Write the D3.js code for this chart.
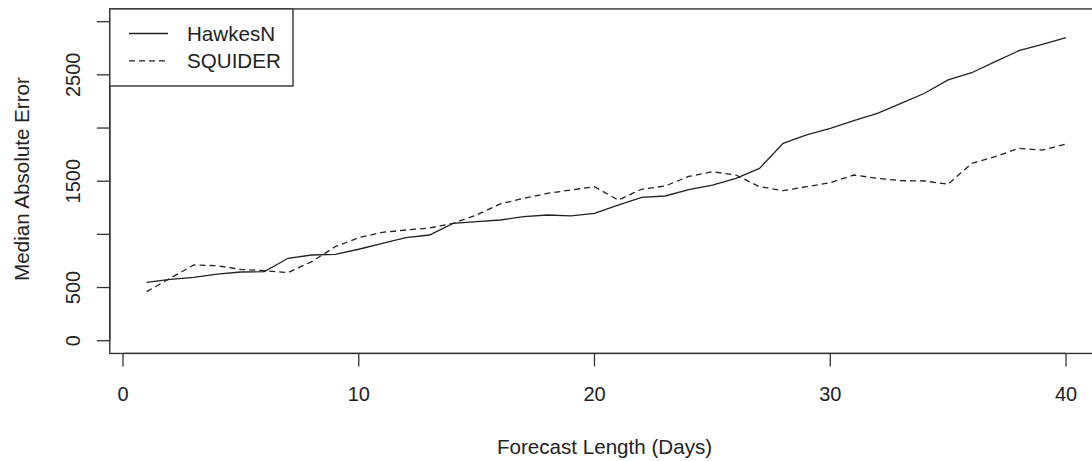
<!DOCTYPE html>
<html>
<head>
<meta charset="utf-8">
<script src="https://cdn.jsdelivr.net/npm/d3@7"></script>
<style>
  body { margin: 0; background: #fff; }
  svg { display: block; font-family: "Liberation Sans", Arial, sans-serif; }
</style>
</head>
<body>
<div id="chart"></div>
<script>
// Forecast horizon (days)
const days = d3.range(1, 41);

// Median absolute error per day
const hawkesN = [549, 577, 596, 627, 646, 649, 775, 806, 812, 860,
                 916, 969, 994, 1104, 1119, 1135, 1166, 1182, 1173, 1198,
                 1276, 1348, 1361, 1420, 1464, 1527, 1621, 1856, 1935, 1997,
                 2069, 2138, 2232, 2327, 2452, 2520, 2624, 2727, 2787, 2850];
const squider = [461, 587, 712, 705, 671, 658, 640, 743, 884, 969,
                 1019, 1041, 1060, 1104, 1182, 1286, 1339, 1386, 1417, 1448,
                 1323, 1424, 1455, 1545, 1589, 1558, 1448, 1411, 1448, 1486,
                 1558, 1527, 1505, 1502, 1471, 1668, 1731, 1809, 1793, 1850];

const xTicks = [0, 10, 20, 30, 40];
const yTicks = [0, 500, 1000, 1500, 2000, 2500, 3000];
const yTickLabels = [0, 500, 1500, 2500]; // R drops the overlapping ones

const seriesNames = ["HawkesN", "SQUIDER"];
const seriesDash = [null, "6,4"];

function draw() {
  const width = 1092, height = 461;
  const ink = "#222";

  const svg = d3.select("#chart").append("svg")
    .attr("width", width)
    .attr("height", height);

  const x = d3.scaleLinear().domain([0, 40]).range([123, 1066]);
  const y = d3.scaleLinear().domain([0, 3000]).range([340.7, 21.7]);

  // R-style 4% padding around the data range gives the box
  const xPad = 0.04 * (40 - 1);
  const yPad = 0.04 * 3000;
  const boxL = x(1 - xPad), boxR = x(40 + xPad);
  const boxT = y(3000 + yPad), boxB = y(-yPad);

  // series
  const line = d3.line()
    .x((d, i) => x(days[i]))
    .y(d => y(d));

  [hawkesN, squider].forEach((s, k) => {
    svg.append("path")
      .datum(s)
      .attr("d", line)
      .attr("fill", "none")
      .attr("stroke", ink)
      .attr("stroke-width", 1.3)
      .attr("stroke-dasharray", seriesDash[k]);
  });

  // box
  svg.append("rect")
    .attr("x", boxL).attr("y", boxT)
    .attr("width", boxR - boxL).attr("height", boxB - boxT)
    .attr("fill", "none")
    .attr("stroke", "#333")
    .attr("stroke-width", 1.4);

  // x axis
  const xa = svg.append("g");
  xTicks.forEach(t => {
    xa.append("line")
      .attr("x1", x(t)).attr("x2", x(t))
      .attr("y1", boxB).attr("y2", boxB + 13)
      .attr("stroke", "#333").attr("stroke-width", 1.3);
    xa.append("text")
      .attr("x", x(t)).attr("y", 401)
      .attr("text-anchor", "middle")
      .attr("font-size", 20)
      .attr("fill", ink)
      .text(t);
  });
  xa.append("line")
    .attr("x1", x(0)).attr("x2", x(40))
    .attr("y1", boxB).attr("y2", boxB)
    .attr("stroke", "#333").attr("stroke-width", 1.3);

  // y axis
  const ya = svg.append("g");
  yTicks.forEach(t => {
    ya.append("line")
      .attr("x1", boxL - 13).attr("x2", boxL)
      .attr("y1", y(t)).attr("y2", y(t))
      .attr("stroke", "#333").attr("stroke-width", 1.3);
  });
  ya.append("line")
    .attr("x1", boxL).attr("x2", boxL)
    .attr("y1", y(0)).attr("y2", y(3000))
    .attr("stroke", "#333").attr("stroke-width", 1.3);
  yTickLabels.forEach(t => {
    ya.append("text")
      .attr("transform", `translate(80,${y(t)}) rotate(-90)`)
      .attr("text-anchor", "middle")
      .attr("font-size", 20)
      .attr("fill", ink)
      .text(t);
  });

  // axis titles
  svg.append("text")
    .attr("x", x(20) + 10).attr("y", 454)
    .attr("text-anchor", "middle")
    .attr("font-size", 20.6)
    .attr("fill", ink)
    .text("Forecast Length (Days)");

  svg.append("text")
    .attr("transform", `translate(29,179) rotate(-90)`)
    .attr("text-anchor", "middle")
    .attr("font-size", 20.6)
    .attr("fill", ink)
    .text("Median Absolute Error");

  // legend
  const lg = svg.append("g");
  lg.append("rect")
    .attr("x", boxL).attr("y", boxT)
    .attr("width", 293 - boxL).attr("height", 86 - boxT)
    .attr("fill", "#fff")
    .attr("stroke", "#333")
    .attr("stroke-width", 1.4);
  seriesNames.forEach((name, i) => {
    const ly = 33.5 + i * 27.3;
    lg.append("line")
      .attr("x1", 129).attr("x2", 168)
      .attr("y1", ly).attr("y2", ly)
      .attr("stroke", ink)
      .attr("stroke-width", 1.3)
      .attr("stroke-dasharray", seriesDash[i]);
    lg.append("text")
      .attr("x", 187).attr("y", ly + 7.5)
      .attr("font-size", 20.6)
      .attr("fill", ink)
      .text(name);
  });
}

draw();
</script>
</body>
</html>
